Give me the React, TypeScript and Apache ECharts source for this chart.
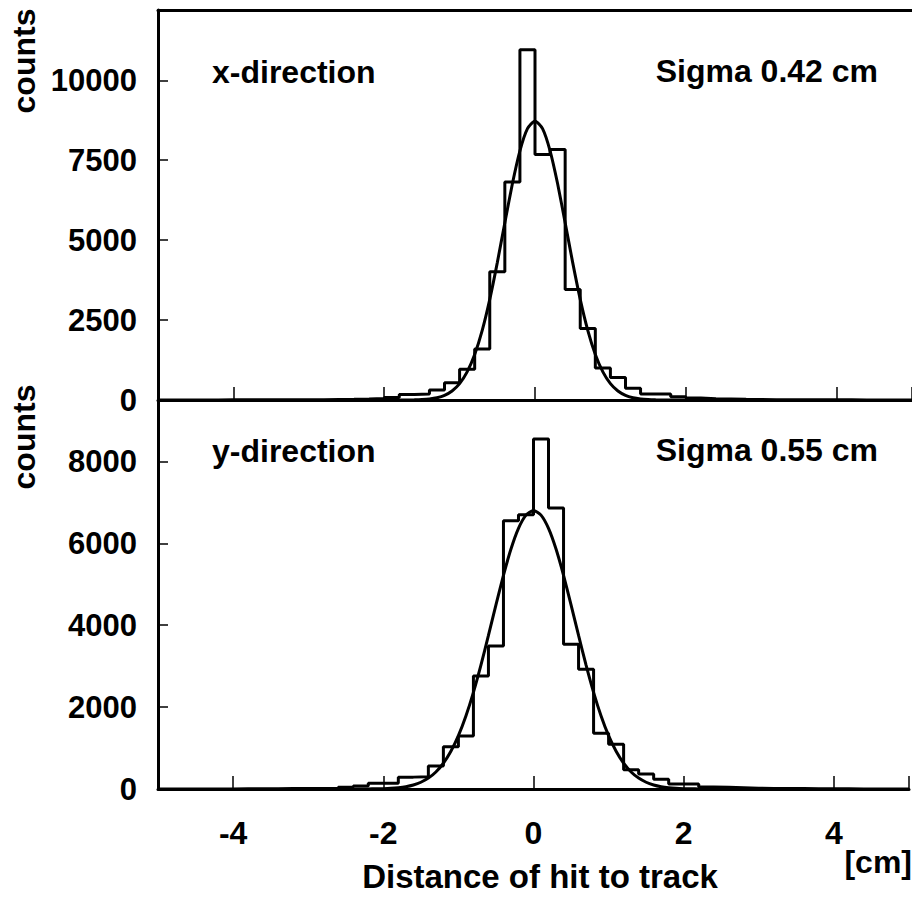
import { useEffect, useRef } from "react";
import * as echarts from "echarts";

// Histogram bins: left edge of first bin and bin width (cm)
const BIN_START = -5;
const BIN_WIDTH = 0.2;

// x-direction histogram counts, bins from -5.0 to 5.0 cm
const X_HIST = [
  0, 0, 0, 0, 5, 5, 5, 5, 10, 10, 10, 15, 20, 30, 45, 75,
  170, 190, 312, 541, 959, 1594, 4010, 6822, 10960,
  7678, 7834, 3459, 2240, 1000, 703, 365, 188, 188, 100, 60, 40, 30, 20, 15,
  10, 10, 8, 5, 5, 5, 3, 0, 0, 0,
];

// y-direction histogram counts, bins from -5.0 to 5.0 cm
const Y_HIST = [
  0, 0, 0, 0, 3, 5, 5, 5, 10, 10, 15,
  20, 40, 73, 139, 139, 290, 300, 562, 1034, 1295, 2762, 3495, 6550, 6697,
  8547, 6860, 3536, 2925, 1361, 1092, 470, 367, 236, 122, 122, 50, 40, 30, 20,
  15, 10, 10, 5, 5, 5, 3, 0, 0, 0,
];

const FIT_STEP = 0.1;
const X_FIT_START = -2.0;
const X_FIT = [
  0, 0, 1, 2, 6, 15, 34, 73, 147, 283, 513, 879, 1423, 2177, 3147, 4298, 5547, 6764, 7794, 8487,
  8730,
  8487, 7794, 6764, 5547, 4298, 3147, 2177, 1423, 879, 513, 283, 147, 73, 34, 15, 6, 2, 1, 0, 0,
];
const Y_FIT_START = -2.4;
const Y_FIT = [
  0, 1, 2, 5, 9, 17, 32, 57, 99, 165, 266, 416, 629, 920, 1302, 1783, 2361, 3025, 3750, 4498, 5220, 5860, 6365, 6689,
  6800,
  6689, 6365, 5860, 5220, 4498, 3750, 3025, 2361, 1783, 1302, 920, 629, 416, 266, 165, 99, 57, 32, 17, 9, 5, 2, 1, 0,
];

const X_MIN = -5;
const X_MAX = 5;
const TOP_Y_MAX = 12200;
const TOP_Y_STEP = 2500;
const BOT_Y_MAX = 9500;
const BOT_Y_STEP = 2000;

const FONT = '"Liberation Sans", Arial, Helvetica, sans-serif';

function histPoints(vals: number[]) {
  const pts = vals.map((v, i) => [+(BIN_START + i * BIN_WIDTH).toFixed(2), v]);
  pts.push([+(BIN_START + vals.length * BIN_WIDTH).toFixed(2), vals[vals.length - 1]]);
  return pts;
}
function curvePoints(start: number, vals: number[]) {
  return vals.map((v, i) => [+(start + i * FIT_STEP).toFixed(2), v]);
}

export default function App() {
  const ref = useRef<HTMLDivElement>(null);
  useEffect(() => {
    document.body.style.margin = "0";
    if (!ref.current) return;
    const chart = echarts.init(ref.current, undefined, { renderer: "svg" });
    const tickStyle = { color: "#000", width: 1.5 };
    const frameLine = { show: true, onZero: false, lineStyle: { color: "#000", width: 3 } };
    const xAxisBase = {
      type: "value" as const,
      min: X_MIN,
      max: X_MAX,
      splitNumber: 5,
      position: "bottom" as const,
      axisLine: frameLine,
      axisTick: { inside: true, length: 13, lineStyle: tickStyle },
      splitLine: { show: false },
    };
    const yLabel = (step: number) => ({
      fontSize: 31,
      fontWeight: "bold" as const,
      color: "#000",
      fontFamily: FONT,
      margin: 21,
      formatter: (v: number) => (v % step === 0 ? String(v) : ""),
    });
    const lineStyle = { color: "#000", width: 3 };
    const txt = (text: string, x: number, y: number, align: string, size = 32, rotation = 0) => ({
      type: "text",
      x,
      y,
      rotation,
      silent: true,
      style: {
        text,
        fill: "#000",
        font: `bold ${size}px ${FONT}`,
        textAlign: align,
        textVerticalAlign: "middle",
      },
    });
    chart.setOption({
      animation: false,
      grid: [
        { left: 158, top: 10, width: 757, height: 390 },
        { left: 158, top: 400, width: 757, height: 389 },
      ],
      xAxis: [
        { ...xAxisBase, gridIndex: 0, axisLabel: { show: false } },
        {
          ...xAxisBase,
          gridIndex: 1,
          axisLabel: {
            fontSize: 32,
            fontWeight: "bold",
            color: "#000",
            fontFamily: FONT,
            margin: 28,
            formatter: (v: number) => (Math.abs(v) < X_MAX && Number.isInteger(v / 2) ? String(v) : ""),
          },
        },
        {
          type: "value",
          gridIndex: 0,
          min: X_MIN,
          max: X_MAX,
          position: "top",
          axisLine: frameLine,
          axisTick: { show: false },
          axisLabel: { show: false },
          splitLine: { show: false },
        },
      ],
      yAxis: [
        {
          type: "value",
          gridIndex: 0,
          min: 0,
          max: TOP_Y_MAX,
          interval: TOP_Y_STEP,
          position: "left",
          axisLine: frameLine,
          axisTick: { inside: true, length: 10, lineStyle: tickStyle },
          splitLine: { show: false },
          axisLabel: yLabel(TOP_Y_STEP),
        },
        {
          type: "value",
          gridIndex: 1,
          min: 0,
          max: BOT_Y_MAX,
          interval: BOT_Y_STEP,
          position: "left",
          axisLine: frameLine,
          axisTick: { inside: true, length: 10, lineStyle: tickStyle },
          splitLine: { show: false },
          axisLabel: yLabel(BOT_Y_STEP),
        },
      ],
      series: [
        { type: "line", xAxisIndex: 0, yAxisIndex: 0, step: "end", symbol: "none", lineStyle, itemStyle: { color: "#000" }, data: histPoints(X_HIST), silent: true },
        { type: "line", xAxisIndex: 0, yAxisIndex: 0, symbol: "none", smooth: 0.2, lineStyle, itemStyle: { color: "#000" }, data: curvePoints(X_FIT_START, X_FIT), silent: true },
        { type: "line", xAxisIndex: 1, yAxisIndex: 1, step: "end", symbol: "none", lineStyle, itemStyle: { color: "#000" }, data: histPoints(Y_HIST), silent: true },
        { type: "line", xAxisIndex: 1, yAxisIndex: 1, symbol: "none", smooth: 0.2, lineStyle, itemStyle: { color: "#000" }, data: curvePoints(Y_FIT_START, Y_FIT), silent: true },
      ],
      graphic: [
        txt("x-direction", 212, 72, "left"),
        txt("Sigma 0.42 cm", 878, 71, "right"),
        txt("y-direction", 212, 451, "left"),
        txt("Sigma 0.55 cm", 878, 450, "right"),
        txt("counts", 24, 61, "center", 32, Math.PI / 2),
        txt("counts", 24, 437, "center", 32, Math.PI / 2),
        txt("[cm]", 912, 862, "right"),
        txt("Distance of hit to track", 540, 876, "center", 33),
      ],
    });
    return () => chart.dispose();
  }, []);
  return <div ref={ref} style={{ width: 912, height: 897 }} />;
}
